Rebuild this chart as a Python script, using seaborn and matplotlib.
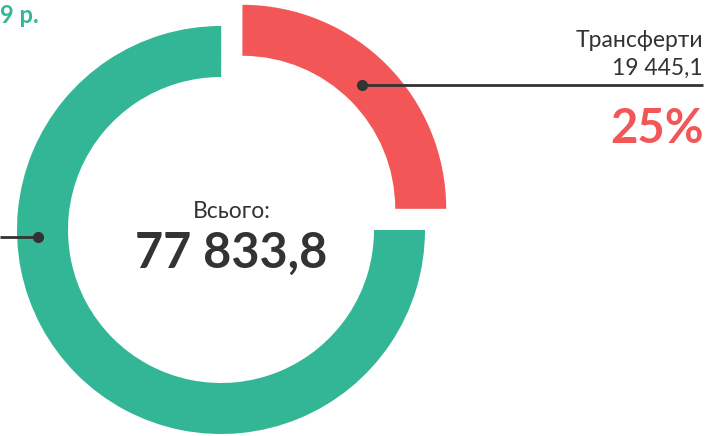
import matplotlib
matplotlib.use('Agg')
import matplotlib.pyplot as plt
import seaborn as sns

# budget structure: transfers vs the rest
labels = ['Трансферти', 'Інше']
values = [19445.1, 58388.7]
total = 77833.8
colors = ['#F25656', '#33B696']
title_tail = '9 р.'
total_label = 'Всього:'


def fmt(v):
    # 77833.8 -> "77 833,8"
    return f'{v:,.1f}'.replace(',', ' ').replace('.', ',')


sns.set_theme(style='white')
plt.rcParams['font.family'] = ['Lato', 'DejaVu Sans']

W, H = 719, 436
fig = plt.figure(figsize=(W / 100, H / 100), dpi=100)
ax = fig.add_axes([0, 0, 1, 1])

# donut, red slice pulled out a bit (explode is in data units here)
ax.pie(values, colors=colors, startangle=0, counterclock=True,
       center=(221, H - 230), radius=204, explode=[30, 0],
       wedgeprops=dict(width=51, linewidth=0), frame=True)

ax.set_xlim(0, W)
ax.set_ylim(0, H)
ax.set_aspect('equal')
ax.axis('off')

dark = '#333333'

# right callout for transfers
ax.plot([362, 703], [H - 85, H - 85], color=dark, lw=2, solid_capstyle='butt')
ax.plot([362], [H - 85], 'o', color=dark, ms=7)
ax.text(703, H - 47, labels[0], ha='right', va='baseline', fontsize=16.5, color=dark)
ax.text(703, H - 75, fmt(values[0]), ha='right', va='baseline', fontsize=16.5, color=dark)
share = round(values[0] / total * 100)
ax.text(704, H - 143, f'{share}%', ha='right', va='baseline', fontsize=34,
        fontweight='bold', color=colors[0])

# left callout (its text is off the canvas)
ax.plot([0, 38], [H - 237, H - 237], color=dark, lw=2, solid_capstyle='butt')
ax.plot([38], [H - 237], 'o', color=dark, ms=7)

# centre text
ax.text(232, H - 218, total_label, ha='center', va='baseline', fontsize=16.5, color=dark)
ax.text(231, H - 268, fmt(total), ha='center', va='baseline', fontsize=35,
        fontweight='bold', color=dark)

# clipped title remnant
ax.text(0, H - 23, title_tail, ha='left', va='baseline', fontsize=17,
        fontweight='bold', color=colors[1])

fig.savefig('out.png', dpi=100)
